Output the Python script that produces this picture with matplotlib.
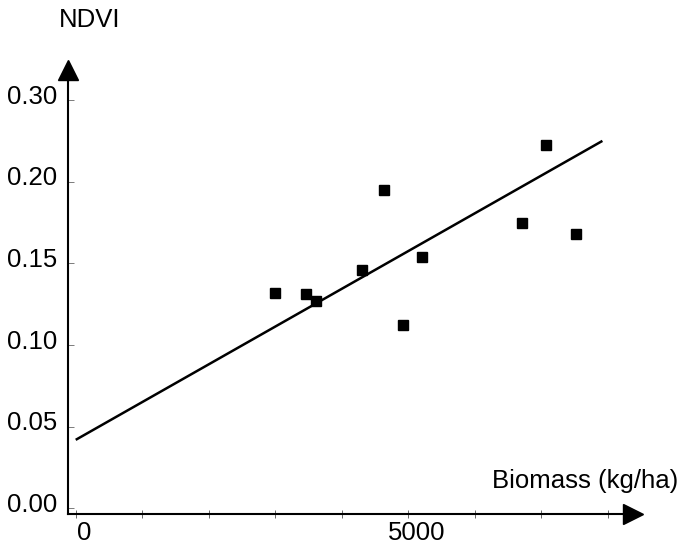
import matplotlib
matplotlib.use("Agg")
import matplotlib.pyplot as plt
import matplotlib.transforms as mtransforms

# ---- data ----
biomass = [2990, 3460, 3620, 4300, 4640, 4920, 5210, 6710, 7070, 7520]
ndvi = [0.132, 0.1315, 0.127, 0.146, 0.195, 0.1125, 0.154, 0.175, 0.2225, 0.168]
fit_x = [0, 7920]
fit_y = [0.042, 0.225]
y_tick_values = [0.00, 0.05, 0.10, 0.15, 0.20, 0.25]
y_tick_labels = ["0.00", "0.05", "0.10", "0.15", "0.20", "0.30"]
x_tick_values = [0, 1000, 2000, 3000, 4000, 5000, 6000, 7000, 8000]
x_tick_labels = ["0", "", "", "", "", "5000", "", "", ""]
x_label = "Biomass (kg/ha)"
y_label = "NDVI"

plt.rcParams['font.family'] = ['Liberation Sans', 'DejaVu Sans']

W, H = 682, 545
fig = plt.figure(figsize=(W / 100, H / 100), dpi=100)
left, right, top, bottom = 68, 633, 70, 514
ax = fig.add_axes([left / W, (H - bottom) / H, (right - left) / W, (bottom - top) / H])

ax.plot(fit_x, fit_y, color='black', lw=1.8, solid_capstyle='butt')
ax.plot(biomass, ndvi, linestyle='none', marker='s', markersize=6.5, color='black')

ax.set_xlim(-116, 8380)
ax.set_ylim(-0.0034, 0.2684)

for s in ['top', 'right']:
    ax.spines[s].set_visible(False)
for s in ['left', 'bottom']:
    ax.spines[s].set_linewidth(1.5)

ax.set_yticks(y_tick_values)
ax.set_yticklabels(y_tick_labels)
ax.set_xticks(x_tick_values)
ax.set_xticklabels(x_tick_labels)
ax.tick_params(axis='y', direction='in', length=4, width=0.6, color='0.4',
               labelsize=18.5, pad=8)
ax.tick_params(axis='x', direction='inout', length=6, width=0.6, color='0.3',
               labelsize=18.5, pad=2)

# shift labels as in reference
for lab in ax.get_yticklabels():
    lab.set_transform(lab.get_transform() + mtransforms.ScaledTranslation(0, 6 / 100, fig.dpi_scale_trans))
for lab in ax.get_xticklabels():
    lab.set_transform(lab.get_transform() + mtransforms.ScaledTranslation(8 / 100, 0, fig.dpi_scale_trans))

# arrow heads
ax.plot([0], [1], marker='^', markersize=14.4, color='black', transform=ax.transAxes, clip_on=False)
ax.plot([1], [0], marker='>', markersize=14.4, color='black', transform=ax.transAxes, clip_on=False)

fig.text(89.5 / W, 1 - 20 / H, y_label, ha='center', va='center', fontsize=18.5)
fig.text(678 / W, 1 - 488 / H, x_label, ha='right', va='baseline', fontsize=18.5)

fig.savefig('out.png', dpi=100)
